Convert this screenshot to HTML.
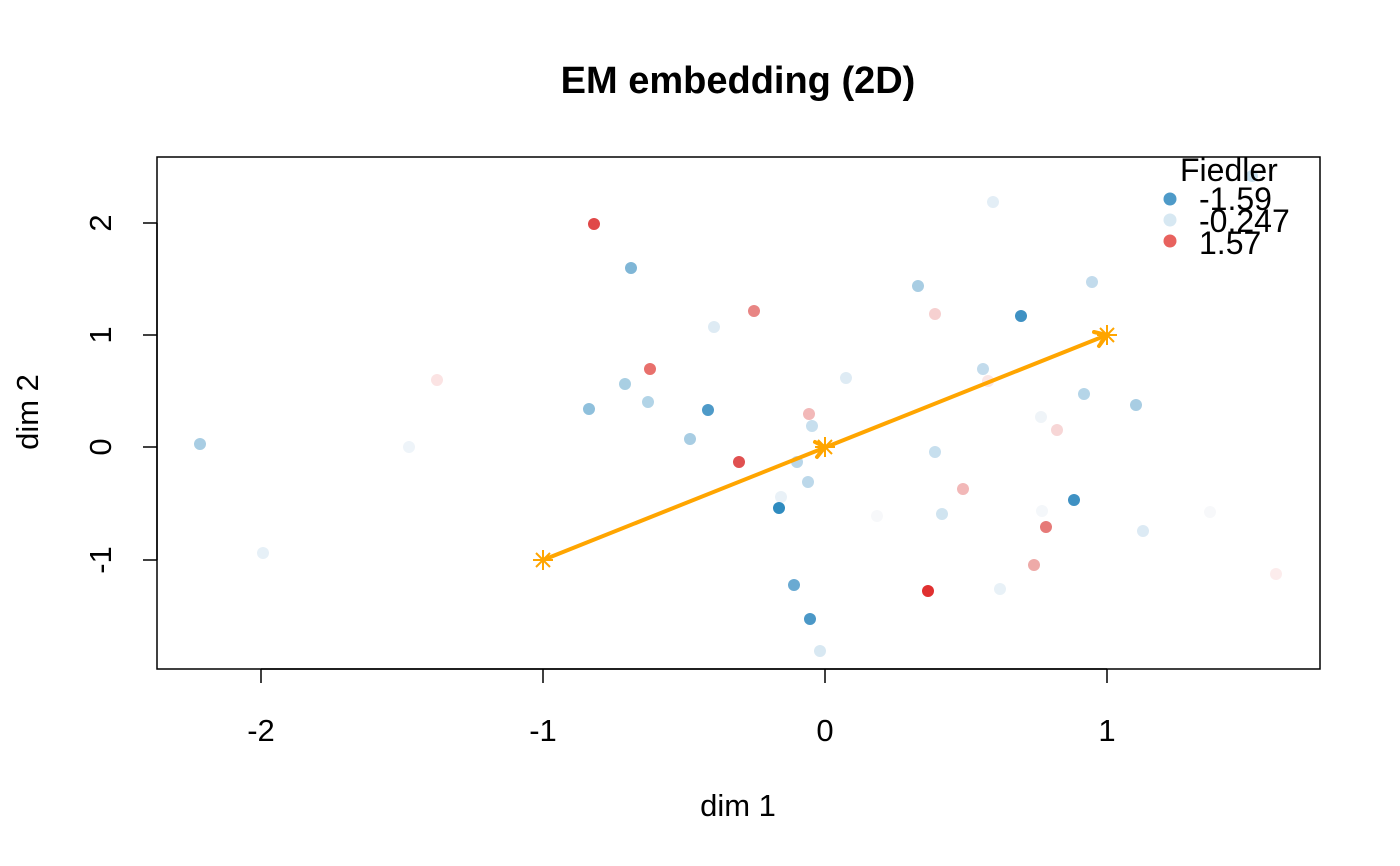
<!DOCTYPE html>
<html><head><meta charset="utf-8"><style>body{margin:0;background:#fff}svg{display:block}</style></head><body>
<svg width="1400" height="866" viewBox="0 0 1400 866" xmlns="http://www.w3.org/2000/svg" font-family="Liberation Sans, sans-serif">
<rect width="1400" height="866" fill="#fff"/>
<text x="738" y="93" font-size="38" font-weight="bold" text-anchor="middle">EM embedding (2D)</text>
<rect x="157" y="157" width="1163" height="512" fill="none" stroke="#000" stroke-width="1.5"/>
<g stroke="#000" stroke-width="1.5">
<line x1="261" y1="669" x2="1107" y2="669"/>
<line x1="261" y1="669" x2="261" y2="683"/><line x1="543" y1="669" x2="543" y2="683"/><line x1="825" y1="669" x2="825" y2="683"/><line x1="1107" y1="669" x2="1107" y2="683"/>
<line x1="157" y1="223" x2="157" y2="560"/>
<line x1="157" y1="223" x2="143" y2="223"/><line x1="157" y1="335" x2="143" y2="335"/><line x1="157" y1="447" x2="143" y2="447"/><line x1="157" y1="560" x2="143" y2="560"/>
</g>
<g font-size="31" text-anchor="middle">
<text x="261" y="741">-2</text><text x="543" y="741">-1</text><text x="825" y="741">0</text><text x="1107" y="741">1</text>
<text transform="translate(111,223) rotate(-90)">2</text>
<text transform="translate(111,335) rotate(-90)">1</text>
<text transform="translate(111,447) rotate(-90)">0</text>
<text transform="translate(111,560) rotate(-90)">-1</text>
<text x="738" y="816">dim 1</text>
<text transform="translate(38,412) rotate(-90)">dim 2</text>
</g>
<g>
<circle cx="200" cy="444" r="6" fill="#a8cde3"/>
<circle cx="263" cy="553" r="6" fill="#e6f0f7"/>
<circle cx="409" cy="447" r="6" fill="#eef4f9"/>
<circle cx="437" cy="380" r="6" fill="#fbe3e3"/>
<circle cx="594" cy="224" r="6" fill="#e04848"/>
<circle cx="631" cy="268" r="6" fill="#7fb6d6"/>
<circle cx="589" cy="409" r="6" fill="#8fc0dc"/>
<circle cx="625" cy="384" r="6" fill="#a9cfe3"/>
<circle cx="648" cy="402" r="6" fill="#b2d4e7"/>
<circle cx="650" cy="369" r="6" fill="#e8706c"/>
<circle cx="708" cy="410" r="6" fill="#4e9ac8"/>
<circle cx="714" cy="327" r="6" fill="#deebf4"/>
<circle cx="754" cy="311" r="6" fill="#e88584"/>
<circle cx="690" cy="439" r="6" fill="#a8cde3"/>
<circle cx="739" cy="462" r="6" fill="#e05050"/>
<circle cx="781" cy="497" r="6" fill="#e9f1f7"/>
<circle cx="779" cy="508" r="6" fill="#2f8bbf"/>
<circle cx="797" cy="462" r="6" fill="#b8d6e9"/>
<circle cx="809" cy="414" r="6" fill="#f2b8b8"/>
<circle cx="812" cy="426" r="6" fill="#c7dfee"/>
<circle cx="808" cy="482" r="6" fill="#bcd8ea"/>
<circle cx="794" cy="585" r="6" fill="#6aaad2"/>
<circle cx="810" cy="619" r="6" fill="#4b98c7"/>
<circle cx="820" cy="651" r="6" fill="#d8e8f2"/>
<circle cx="846" cy="378" r="6" fill="#deebf4"/>
<circle cx="877" cy="516" r="6" fill="#f7f8fa"/>
<circle cx="918" cy="286" r="6" fill="#a8cde3"/>
<circle cx="935" cy="314" r="6" fill="#f6d0d0"/>
<circle cx="935" cy="452" r="6" fill="#c7dfee"/>
<circle cx="942" cy="514" r="6" fill="#d0e4f0"/>
<circle cx="928" cy="591" r="6" fill="#e03030"/>
<circle cx="963" cy="489" r="6" fill="#f2b8b8"/>
<circle cx="983" cy="369" r="6" fill="#c2dbec"/>
<circle cx="988" cy="381" r="6" fill="#fae6e6"/>
<circle cx="993" cy="202" r="6" fill="#e3eef6"/>
<circle cx="1000" cy="589" r="6" fill="#e8f1f7"/>
<circle cx="1021" cy="316" r="6" fill="#3f91c3"/>
<circle cx="1041" cy="417" r="6" fill="#eff4f8"/>
<circle cx="1042" cy="511" r="6" fill="#f4f7fa"/>
<circle cx="1046" cy="527" r="6" fill="#e67a78"/>
<circle cx="1034" cy="565" r="6" fill="#eeaaa8"/>
<circle cx="1057" cy="430" r="6" fill="#f7d6d6"/>
<circle cx="1074" cy="500" r="6" fill="#3f91c3"/>
<circle cx="1084" cy="394" r="6" fill="#b5d5e8"/>
<circle cx="1092" cy="282" r="6" fill="#c2dbec"/>
<circle cx="1136" cy="405" r="6" fill="#a8cde3"/>
<circle cx="1143" cy="531" r="6" fill="#dceaf4"/>
<circle cx="1210" cy="512" r="6" fill="#f7f8fa"/>
<circle cx="1276" cy="574" r="6" fill="#fcecec"/>
<circle cx="1252" cy="176" r="6" fill="#c7dfee"/>
</g>
<g stroke="#FFA500" stroke-width="4" fill="none" stroke-linecap="round">
<line x1="543" y1="560" x2="1107" y2="335"/>
<polyline points="815,442 825,447 817,457"/>
<polyline points="1094,332 1107,335 1099,346"/>
</g>
<g stroke="#FFA500" stroke-width="2">
<path d="M533,560h20M543,550v20M536,553l14,14M550,553l-14,14"/>
<path d="M815,447h20M825,437v20M818,440l14,14M832,440l-14,14"/>
<path d="M1097,335h20M1107,325v20M1100,328l14,14M1114,328l-14,14"/>
</g>
<g font-size="32">
<text x="1180" y="181">Fiedler</text>
<circle cx="1170" cy="199" r="6.5" fill="#4e9ac8"/>
<circle cx="1170" cy="220" r="6.5" fill="#d7e8f2"/>
<circle cx="1170" cy="241" r="6.5" fill="#e8625e"/>
<text x="1199" y="210">-1.59</text>
<text x="1199" y="232">-0.247</text>
<text x="1199" y="254">1.57</text>
</g>
</svg>
</body></html>
